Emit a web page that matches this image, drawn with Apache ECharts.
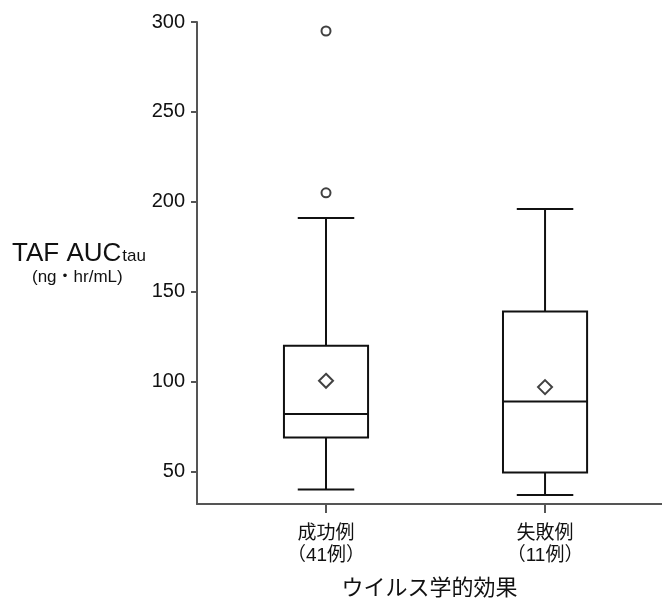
<!DOCTYPE html>
<html><head><meta charset="utf-8">
<script src="https://cdn.jsdelivr.net/npm/echarts@6/dist/echarts.min.js"></script>
<style>html,body{margin:0;padding:0;background:#fff}#c{width:662px;height:600px}</style>
</head><body><div id="c"></div>
<script>
const categories = ['成功例\n（41例）', '失敗例\n（11例）'];
const whiskerLow = [40, 37];
const q1Values = [69, 49.5];
const medianValues = [82, 89];
const q3Values = [120, 139];
const whiskerHigh = [191, 196];
const meanValues = [100.5, 97];
const outlierValues = [[0, 205], [0, 295]];
const yTicks = [50, 100, 150, 200, 250, 300];

const FONT = '"Liberation Sans", "Noto Sans CJK JP", sans-serif';
const INK = '#111';
const boxData = categories.map((c, i) => [i, whiskerLow[i], q1Values[i], medianValues[i], q3Values[i], whiskerHigh[i]]);
const meanData = meanValues.map((v, i) => [i, v]);

const chart = echarts.init(document.getElementById('c'));
chart.setOption({
  animation: false,
  grid: { left: 197, right: 0, top: 22, bottom: 96, outerBoundsMode: 'none', containLabel: false },
  xAxis: {
    type: 'value', min: -0.589, max: 1.534,
    splitLine: { show: false },
    axisLine: { show: true, onZero: false, lineStyle: { color: '#555', width: 2 } },
    axisTick: { show: true, length: 9, customValues: [0, 1], lineStyle: { color: '#555', width: 2 } },
    axisLabel: {
      customValues: [0, 1], formatter: v => categories[Math.round(v)],
      fontFamily: FONT, fontSize: 19, color: INK, lineHeight: 22, margin: 19
    },
    name: 'ウイルス学的効果', nameLocation: 'middle', nameGap: 74,
    nameTextStyle: { fontFamily: FONT, fontSize: 22, color: INK, verticalAlign: 'top' }
  },
  yAxis: {
    type: 'value', min: 32, max: 300,
    splitLine: { show: false },
    axisLine: { show: true, onZero: false, lineStyle: { color: '#555', width: 2 } },
    axisTick: { show: true, length: 6, customValues: yTicks, lineStyle: { color: '#555', width: 2 } },
    axisLabel: { customValues: yTicks, fontFamily: FONT, fontSize: 20, color: INK, margin: 12 }
  },
  graphic: [
    { type: 'text', left: 12, top: 241, style: { rich: {
        a: { fontFamily: FONT, fontSize: 26, fill: INK, verticalAlign: 'bottom' },
        b: { fontFamily: FONT, fontSize: 17, fill: INK, verticalAlign: 'bottom', padding: [0,0,2,1] } },
        text: '{a|TAF AUC}{b|tau}' } },
    { type: 'text', left: 32, top: 269, style: { text: '(ng・hr/mL)', fontFamily: FONT, fontSize: 17, fill: INK } }
  ],
  series: [
    {
      type: 'custom',
      data: boxData,
      encode: { x: 0, y: [1, 2, 3, 4, 5] },
      renderItem: function (params, api) {
        const x = api.value(0);
        const pLo = api.coord([x, api.value(1)]);
        const pQ1 = api.coord([x, api.value(2)]);
        const pMed = api.coord([x, api.value(3)]);
        const pQ3 = api.coord([x, api.value(4)]);
        const pHi = api.coord([x, api.value(5)]);
        const halfBox = api.size([0.384, 0])[0] / 2;
        const halfCap = api.size([0.258, 0])[0] / 2;
        const cx = pLo[0];
        const st = { stroke: INK, lineWidth: 2, fill: null };
        return { type: 'group', children: [
          { type: 'line', shape: { x1: cx, y1: pLo[1], x2: cx, y2: pQ1[1] }, style: st },
          { type: 'line', shape: { x1: cx, y1: pQ3[1], x2: cx, y2: pHi[1] }, style: st },
          { type: 'line', shape: { x1: cx - halfCap, y1: pLo[1], x2: cx + halfCap, y2: pLo[1] }, style: st },
          { type: 'line', shape: { x1: cx - halfCap, y1: pHi[1], x2: cx + halfCap, y2: pHi[1] }, style: st },
          { type: 'rect', shape: { x: cx - halfBox, y: pQ3[1], width: 2 * halfBox, height: pQ1[1] - pQ3[1] }, style: { stroke: INK, lineWidth: 2, fill: '#fff' } },
          { type: 'line', shape: { x1: cx - halfBox, y1: pMed[1], x2: cx + halfBox, y2: pMed[1] }, style: st }
        ] };
      },
      z: 2
    },
    {
      type: 'scatter', data: meanData, symbol: 'diamond', symbolSize: [14, 14],
      itemStyle: { color: '#fff', borderColor: INK, borderWidth: 2 }, z: 3
    },
    {
      type: 'scatter', data: outlierValues, symbol: 'circle', symbolSize: 9,
      itemStyle: { color: '#fff', borderColor: INK, borderWidth: 2 }, z: 3
    }
  ]
});
</script></body></html>
